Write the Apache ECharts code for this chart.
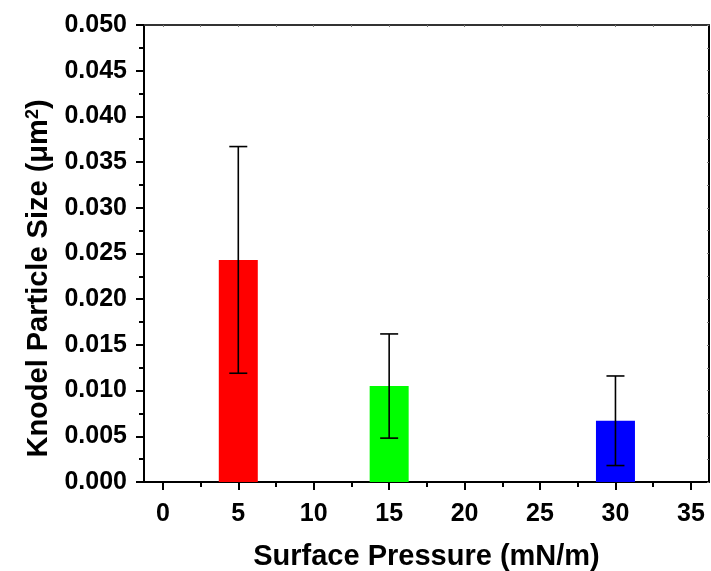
<!DOCTYPE html>
<html>
<head>
<meta charset="utf-8">
<script src="https://cdn.jsdelivr.net/npm/echarts@6/dist/echarts.min.js"></script>
<style>html,body{margin:0;padding:0;background:#fff}#c{width:711px;height:571px}</style>
</head>
<body>
<div id="c"></div>
<script>
// ---- data ----
const pressures = [5, 15, 30];
const particleSize = [0.0243, 0.0105, 0.0067];
const sizeError = [0.0124, 0.0057, 0.0049];
const xTickValues = [0, 5, 10, 15, 20, 25, 30, 35];
const xMinorTickValues = [2.5, 7.5, 12.5, 17.5, 22.5, 27.5, 32.5];
const xAllTickValues = [0, 2.5, 5, 7.5, 10, 12.5, 15, 17.5, 20, 22.5, 25, 27.5, 30, 32.5, 35];
const xTitle = 'Surface Pressure (mN/m)';
const yTitle = 'Knodel Particle Size (\u03bcm{sup|2})';

// ---- styles ----
const barColors = ['#ff0000', '#00ff00', '#0000ff'];
const FONT = 'Liberation Sans, Arial, sans-serif';

const chart = echarts.init(document.getElementById('c'), null, {renderer: 'canvas'});

const barData = pressures.map((p, i) => ({value: [p, particleSize[i]], itemStyle: {color: barColors[i]}}));
const errData = pressures.map((p, i) => [p, particleSize[i] - sizeError[i], particleSize[i] + sizeError[i]]);

const gridRect = {left: 144, right: 2, top: 25, bottom: 89, containLabel: false, outerBoundsMode: 'none'};
const XMIN = -1.25, XMAX = 36.2;

chart.setOption({
  animation: false,
  backgroundColor: '#fff',
  grid: [Object.assign({}, gridRect), Object.assign({}, gridRect)],
  xAxis: [
    {
      type: 'value', gridIndex: 0, position: 'bottom', min: XMIN, max: XMAX,
      axisLine: {show: true, onZero: false, lineStyle: {color: '#000', width: 2}},
      axisTick: {show: true, inside: false, length: 8, lineStyle: {color: '#000', width: 2}, customValues: xTickValues},
      axisLabel: {show: true, margin: 20, customValues: xTickValues, color: '#000', fontFamily: FONT, fontWeight: 'bold', fontSize: 25},
      splitLine: {show: false},
      name: xTitle, nameLocation: 'middle', nameGap: 60,
      nameTextStyle: {color: '#000', fontFamily: FONT, fontWeight: 'bold', fontSize: 29}
    },
    {
      type: 'value', gridIndex: 0, position: 'top', min: XMIN, max: XMAX,
      axisLine: {show: true, onZero: false, lineStyle: {color: '#333', width: 2}},
      axisTick: {show: true, inside: true, length: 2, lineStyle: {color: '#777', width: 1}, customValues: xAllTickValues},
      axisLabel: {show: false}, splitLine: {show: false}
    },
    {
      type: 'value', gridIndex: 1, position: 'bottom', min: XMIN, max: XMAX,
      axisLine: {show: false, onZero: false},
      axisTick: {show: true, inside: false, length: 5, lineStyle: {color: '#000', width: 2}, customValues: xMinorTickValues},
      axisLabel: {show: false}, splitLine: {show: false}
    }
  ],
  yAxis: [
    {
      type: 'value', gridIndex: 0, position: 'left', min: 0, max: 0.05, interval: 0.005,
      axisLine: {show: true, onZero: false, lineStyle: {color: '#000', width: 2}},
      axisTick: {show: true, inside: false, length: 8, lineStyle: {color: '#000', width: 2}},
      minorTick: {show: true, splitNumber: 2, length: 5, lineStyle: {color: '#000', width: 2}},
      axisLabel: {margin: 17, color: '#000', fontFamily: FONT, fontWeight: 'bold', fontSize: 25,
        formatter: v => v.toFixed(3)},
      splitLine: {show: false},
      name: yTitle, nameLocation: 'middle', nameGap: 82, nameRotate: 90,
      nameTextStyle: {color: '#000', fontFamily: FONT, fontWeight: 'bold', fontSize: 29, padding: [0, 50, 0, 0],
        rich: {sup: {fontFamily: FONT, fontWeight: 'bold', fontSize: 18, verticalAlign: 'top', color: '#000', padding: [0, 0, 12, 0]}}}
    },
    {
      type: 'value', gridIndex: 0, position: 'right', min: 0, max: 0.05, interval: 0.0025,
      axisLine: {show: true, onZero: false, lineStyle: {color: '#000', width: 2}},
      axisTick: {show: true, inside: true, length: 2, lineStyle: {color: '#777', width: 1}},
      axisLabel: {show: false}, splitLine: {show: false}
    },
    {
      type: 'value', gridIndex: 1, min: 0, max: 0.05, show: false
    }
  ],
  series: [
    {
      type: 'bar', xAxisIndex: 0, yAxisIndex: 0, barWidth: 39,
      data: barData
    },
    {
      type: 'custom', xAxisIndex: 0, yAxisIndex: 0, z: 10,
      data: errData,
      renderItem: function (params, api) {
        const x = api.value(0);
        const lo = api.coord([x, api.value(1)]);
        const hi = api.coord([x, api.value(2)]);
        const cap = 9;
        const style = {stroke: '#000', lineWidth: 1.6};
        return {
          type: 'group',
          children: [
            {type: 'line', shape: {x1: lo[0], y1: lo[1], x2: hi[0], y2: hi[1]}, style: style},
            {type: 'line', shape: {x1: hi[0] - cap, y1: hi[1], x2: hi[0] + cap, y2: hi[1]}, style: style},
            {type: 'line', shape: {x1: lo[0] - cap, y1: lo[1], x2: lo[0] + cap, y2: lo[1]}, style: style}
          ]
        };
      }
    }
  ]
});
</script>
</body>
</html>
